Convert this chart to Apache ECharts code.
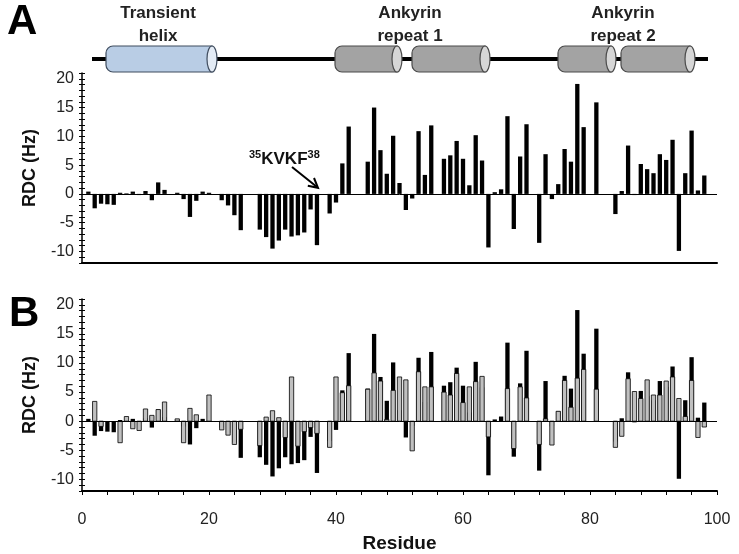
<!DOCTYPE html>
<html>
<head>
<meta charset="utf-8">
<script src="https://cdn.jsdelivr.net/npm/echarts@6/dist/echarts.min.js"></script>
<style>
html,body{margin:0;padding:0;background:#fff;}
#chart{width:739px;height:554px;}
</style>
</head>
<body>
<div id="chart"></div>
<script>
// Residue numbers are 1..98 (index + 1); null = no data
const expRDC = [
  0.4, -2.5, -1.7, -1.8, -1.9, 0.2, 0.1, 0.4, -0.2, 0.5,
  -1.1, 2.0, 0.7, null, 0.2, -0.9, -4.0, -1.2, 0.4, 0.2,
  null, -1.1, -2.0, -3.7, -6.3, null, null, -6.2, -7.5, -9.5,
  -8.1, -6.2, -7.4, -7.2, -6.7, -2.7, -8.9, null, -3.4, -1.5,
  5.3, 11.7, null, null, 5.6, 15.0, 7.6, 3.5, 10.1, 1.9,
  -2.8, -0.8, 10.9, 3.3, 11.9, null, 6.1, 6.7, 9.2, 6.1,
  1.5, 10.2, 5.8, -9.3, 0.3, 0.8, 13.5, -6.1, 6.5, 12.1,
  null, -8.5, 6.9, -0.9, 1.7, 7.8, 5.6, 19.1, 11.6, null,
  15.9, null, null, -3.5, 0.5, 8.4, -0.2, 5.2, 4.3, 3.6,
  6.9, 5.9, 9.4, -9.9, 3.6, 11.0, 0.6, 3.2
];
const predRDC = [
  null, 3.4, -0.9, null, null, -3.7, 0.8, -1.3, -1.6, 2.1,
  1.0, 2.0, 3.3, null, 0.4, -3.7, 2.2, 1.1, null, 4.5,
  null, -1.5, -2.4, -4.0, -1.4, null, null, -4.2, 0.7, 1.8,
  0.6, -2.8, 7.6, -4.3, -1.8, -1.1, -2.1, null, -4.5, 7.6,
  4.9, 6.1, null, null, 5.5, 8.3, 6.9, 0.3, 5.3, 7.6,
  7.1, -5.1, 8.5, 5.9, 5.9, null, 5.0, 4.5, 8.2, 3.2,
  5.9, 6.8, 7.7, -2.7, null, null, 5.6, -4.7, 5.9, 4.0,
  null, -4.0, 0.4, -4.1, 1.7, 7.0, 2.4, 7.4, 8.9, null,
  5.5, null, null, -4.5, -2.6, 7.3, 5.1, 3.9, 7.1, 4.5,
  4.5, 6.9, 7.6, 3.9, 0.8, 7.0, -2.8, -1.0
];
const yTickLabels = [-10, -5, 0, 5, 10, 15, 20];
const xTickLabels = [0, 20, 40, 60, 80, 100];

const expData = expRDC.map((v, i) => [i + 1, v]).filter(d => d[1] !== null);
const predData = predRDC.map((v, i) => [i + 1, v]).filter(d => d[1] !== null);

const FONT = "'Liberation Sans', Arial, sans-serif";
const BAR_W = 4.3;
const chart = echarts.init(document.getElementById('chart'));

function yAxes(grid) {
  const base = {
    gridIndex: grid, type: 'value', min: -12, max: 21, interval: 1,
    position: 'left', splitLine: {show: false}
  };
  return [
    Object.assign({}, base, {
      name: 'RDC (Hz)', nameLocation: 'middle', nameGap: 43,
      nameTextStyle: {fontFamily: FONT, fontWeight: 'bold', fontSize: 18, color: '#111'},
      axisLine: {show: true, lineStyle: {color: '#000', width: 1.5}},
      axisTick: {show: true, length: 3, lineStyle: {color: '#000', width: 1}},
      axisLabel: {
        show: true, margin: 8, fontFamily: FONT, fontSize: 16, color: '#222',
        formatter: v => (yTickLabels.indexOf(v) >= 0 ? String(v) : '')
      }
    }),
    Object.assign({}, base, {
      axisLine: {show: false},
      axisTick: {show: true, inside: true, length: 3, lineStyle: {color: '#000', width: 1}},
      axisLabel: {show: false}
    })
  ];
}

function barRenderer(fill, stroke, lw) {
  return function (params, api) {
    const x = api.value(0), y = api.value(1);
    const p1 = api.coord([x, y]);
    const p0 = api.coord([x, 0]);
    return {
      type: 'rect',
      shape: {x: p0[0] - BAR_W / 2, y: Math.min(p0[1], p1[1]), width: BAR_W,
              height: Math.abs(p1[1] - p0[1])},
      style: {fill: fill, stroke: stroke, lineWidth: lw}
    };
  };
}

function cylinder(x0, x1, fill, cap, stroke) {
  const y = 46, h = 26;
  return [
    {type: 'rect', shape: {x: x0, y: y, width: x1 - x0, height: h, r: [7, 0, 0, 7]},
     style: {fill: fill, stroke: stroke, lineWidth: 1.2}, z: 10},
    {type: 'ellipse', shape: {cx: x1, cy: y + h / 2, rx: 5, ry: h / 2},
     style: {fill: cap, stroke: stroke, lineWidth: 1.2}, z: 11}
  ];
}

const domainText = (x, text) => ({
  type: 'text', x: x, y: 25, z: 12,
  style: {text: text, fontFamily: FONT, fontWeight: 'bold', fontSize: 17, lineHeight: 23,
          fill: '#222', align: 'center', verticalAlign: 'middle'}
});

const zeroLine = {
  silent: true, symbol: 'none', label: {show: false},
  lineStyle: {color: '#000', width: 1, type: 'solid'},
  data: [{yAxis: 0}]
};

const option = {
  animation: false,
  backgroundColor: '#fff',
  grid: [
    {left: 82, top: 73, width: 635, height: 190},
    {left: 82, top: 299, width: 635, height: 193}
  ],
  xAxis: [
    {gridIndex: 0, type: 'value', min: 0, max: 100, interval: 4,
     axisLine: {show: true, onZero: false, lineStyle: {color: '#000', width: 2}},
     axisTick: {show: false}, axisLabel: {show: false}, splitLine: {show: false}},
    {gridIndex: 1, type: 'value', min: 0, max: 100, interval: 4,
     name: 'Residue', nameLocation: 'middle', nameGap: 43,
     nameTextStyle: {fontFamily: FONT, fontWeight: 'bold', fontSize: 19, color: '#111'},
     axisLine: {show: true, onZero: false, lineStyle: {color: '#000', width: 2}},
     axisTick: {show: true, length: 4, lineStyle: {color: '#000', width: 1}},
     axisLabel: {show: true, margin: 21, fontFamily: FONT, fontSize: 16, color: '#222',
       formatter: v => (xTickLabels.indexOf(v) >= 0 ? String(v) : '')},
     splitLine: {show: false}}
  ],
  yAxis: yAxes(0).concat(yAxes(1)),
  series: [
    {type: 'custom', name: 'expA', xAxisIndex: 0, yAxisIndex: 0, data: expData,
     encode: {x: 0, y: 1}, renderItem: barRenderer('#000', null, 0), z: 2,
     markLine: zeroLine},
    {type: 'custom', name: 'expB', xAxisIndex: 1, yAxisIndex: 2, data: expData,
     encode: {x: 0, y: 1}, renderItem: barRenderer('#000', null, 0), z: 2,
     markLine: zeroLine},
    {type: 'custom', name: 'predB', xAxisIndex: 1, yAxisIndex: 2, data: predData,
     encode: {x: 0, y: 1}, renderItem: barRenderer('#c0c0c0', '#000', 0.8), z: 3}
  ],
  graphic: [
    {type: 'line', shape: {x1: 92, y1: 59, x2: 708, y2: 59},
     style: {stroke: '#000', lineWidth: 4}, z: 5},
    ...cylinder(106, 212, '#b9cde5', '#e3ebf5', '#3f4c5e'),
    ...cylinder(335, 397, '#a3a3a3', '#d6d6d6', '#4a4a4a'),
    ...cylinder(412, 485, '#a3a3a3', '#d6d6d6', '#4a4a4a'),
    ...cylinder(558, 611, '#a3a3a3', '#d6d6d6', '#4a4a4a'),
    ...cylinder(621, 690, '#a3a3a3', '#d6d6d6', '#4a4a4a'),
    domainText(158, 'Transient\nhelix'),
    domainText(410, 'Ankyrin\nrepeat 1'),
    domainText(623, 'Ankyrin\nrepeat 2'),
    {type: 'text', x: 7, y: 22, z: 12,
     style: {text: 'A', fontFamily: FONT, fontWeight: 'bold', fontSize: 42, fill: '#000',
             verticalAlign: 'middle'}},
    {type: 'text', x: 9, y: 314, z: 12,
     style: {text: 'B', fontFamily: FONT, fontWeight: 'bold', fontSize: 42, fill: '#000',
             verticalAlign: 'middle'}},
    {type: 'text', x: 249, y: 159, z: 12,
     style: {text: '{s|35}KVKF{s|38}', fontFamily: FONT, fontWeight: 'bold', fontSize: 17,
             fill: '#111', verticalAlign: 'middle',
             rich: {s: {fontFamily: FONT, fontWeight: 'bold', fontSize: 11, fill: '#111',
                        verticalAlign: 'top', lineHeight: 20}}}},
    {type: 'line', shape: {x1: 292, y1: 167, x2: 317, y2: 187},
     style: {stroke: '#000', lineWidth: 2}, z: 12},
    {type: 'polyline', shape: {points: [[307.8, 185.8], [318, 187.8], [314, 178]]},
     style: {stroke: '#000', lineWidth: 2, fill: null}, z: 12}
  ]
};
chart.setOption(option);
</script>
</body>
</html>
